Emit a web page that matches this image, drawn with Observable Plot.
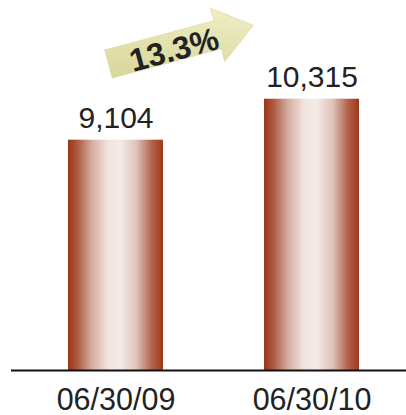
<!DOCTYPE html>
<html>
<head>
<meta charset="utf-8">
<script src="https://cdn.jsdelivr.net/npm/d3@7"></script>
<script src="https://cdn.jsdelivr.net/npm/@observablehq/plot@0.6"></script>
<style>
  html, body { margin: 0; padding: 0; background: #fff; }
  #chart { width: 406px; height: 415px; }
</style>
</head>
<body>
<div id="chart"></div>
<script>
// Data
const dates = ["06/30/09", "06/30/10"];
const values = [9104, 10315];
const yMin = 2300;   // axis minimum of the original chart
const yMax = 12640;

const data = dates.map((d, i) => ({date: d, value: values[i]}));
const growth = (values[1] / values[0] - 1) * 100;

const font = "'Liberation Sans', Arial, Helvetica, sans-serif";

const svg = Plot.plot({
  width: 406,
  height: 415,
  marginTop: 20,
  marginBottom: 45,
  marginLeft: 11,
  marginRight: 0,
  style: {fontFamily: font, background: "#fff", overflow: "visible"},
  x: {domain: dates, paddingInner: 0.514, paddingOuter: 0.262, align: 0.553, label: null},
  y: {domain: [yMin, yMax], axis: null},
  marks: [
    Plot.barY(data, {x: "date", y1: () => yMin, y2: "value", fill: "url(#barGrad)"}),
    Plot.ruleY([yMin], {stroke: "#111", strokeWidth: 2}),
    Plot.text(data, {
      x: "date", y: "value",
      text: d => d3.format(",")(d.value),
      lineAnchor: "bottom", dy: -12,
      fontSize: 30, fill: "#222", fontFamily: font
    }),
    Plot.axisX({tickSize: 0, tickPadding: 18, fontSize: 30.5, fill: "#222", label: null, fontFamily: font})
  ]
});

const s = d3.select(svg);
const defs = s.insert("defs", ":first-child");
const g1 = defs.append("linearGradient").attr("id", "barGrad")
  .attr("x1", "0").attr("x2", "1").attr("y1", "0").attr("y2", "0");
[[0, "#9a3519"], [0.1, "#ad5a41"], [0.25, "#d4aca0"], [0.42, "#f1e4df"], [0.55, "#f5ebe7"],
 [0.72, "#dfc3bb"], [0.88, "#b4644d"], [1, "#9e381b"]].forEach(([o, c]) =>
  g1.append("stop").attr("offset", o).attr("stop-color", c));

const g2 = defs.append("linearGradient").attr("id", "arrowGrad")
  .attr("x1", "0").attr("x2", "1").attr("y1", "1").attr("y2", "0");
[[0, "#d6d394"], [0.5, "#e3e1ad"], [1, "#f3f2cf"]].forEach(([o, c]) =>
  g2.append("stop").attr("offset", o).attr("stop-color", c));

// Growth arrow annotation
const arrow = s.append("g").attr("transform", "translate(108.5,64) rotate(-15)");
arrow.append("polygon")
  .attr("points", "0,-14.5 113,-14.5 113,-27.5 150,0 113,27.5 113,14.5 0,14.5")
  .attr("fill", "url(#arrowGrad)")
  .attr("stroke", "#d9d69c").attr("stroke-width", 1).attr("stroke-dasharray", "1.5,1");
arrow.append("text")
  .attr("x", 67).attr("y", 14)
  .attr("text-anchor", "middle")
  .attr("font-family", font).attr("font-weight", "bold").attr("font-size", 32)
  .attr("fill", "#222")
  .text(growth.toFixed(1) + "%");

document.getElementById("chart").appendChild(svg);
</script>
</body>
</html>
